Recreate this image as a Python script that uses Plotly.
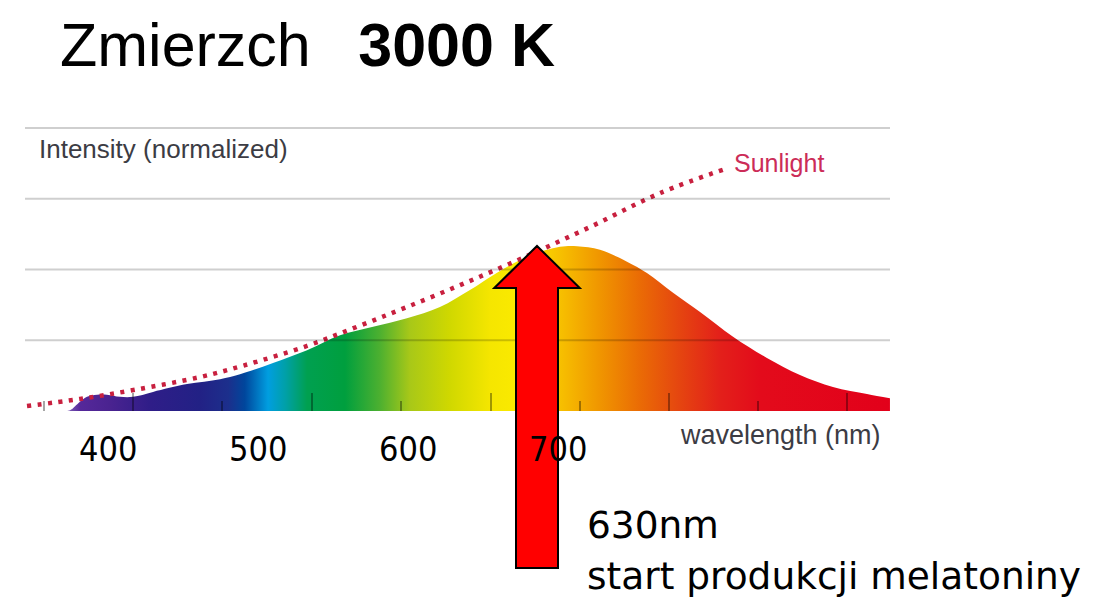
"""Spectrum of a 3000 K source (dusk) against sunlight, with the 630 nm marker."""

import plotly.graph_objects as go

# Spectrum of the lamp (wavelength in nm, normalized intensity)
SPEC_NM = [344.7, 370.0, 374.7, 381.3, 386.0, 392.7, 399.3, 408.0, 416.7, 430.0,
           452.7, 474.7, 488.0, 510.0, 532.7, 554.7, 576.7, 599.3, 621.3, 641.3,
           656.7, 679.3, 701.3, 712.7, 728.0, 746.0, 759.3, 776.7, 794.7, 816.7,
           839.3, 861.3, 883.3, 906.0, 921.3]
SPEC_INT = [0.0, 0.0, 0.01, 0.13, 0.20, 0.23, 0.23, 0.20, 0.20, 0.27,
            0.38, 0.45, 0.52, 0.68, 0.86, 1.07, 1.19, 1.31, 1.47, 1.71,
            1.92, 2.18, 2.32, 2.33, 2.28, 2.11, 1.95, 1.67, 1.40, 1.05,
            0.75, 0.51, 0.34, 0.24, 0.18]

# Sunlight reference curve
SUN_NM = [346.0, 381.3, 418.0, 461.3, 490.0, 532.7, 566.0, 599.3, 639.3, 679.3,
          723.3, 768.0, 812.7]
SUN_INT = [0.07, 0.17, 0.30, 0.48, 0.64, 0.92, 1.19, 1.47, 1.82, 2.19,
           2.62, 3.08, 3.43]

GRID_LEVELS = [1, 2, 3, 4]
TICK_VALUES = [400, 500, 600, 700]
TICK_TEXT = ["400", "500", "600", "700"]
MAJOR_MARKS = [416.7, 536.0, 655.3, 774.0, 892.7]
MINOR_MARKS = [357.3, 476.0, 595.3, 714.7, 833.3]
ARROW_NM = 686

X_RANGE = [344.67, 921.33]
Y_RANGE = [0, 4.014]

# plot area in pixels of the picture (the page adds an 8px body margin)
PAGE_PAD = 8
PLOT_L, PLOT_R, PLOT_T, PLOT_B = 25, 890, 127, 411


def px_x(px):
    return (px - PLOT_L) / (PLOT_R - PLOT_L)


def px_y(py):
    return (PLOT_B - py) / (PLOT_B - PLOT_T)


SPECTRUM_COLORS = [
    [0.000, "#cfc4e4"], [0.044, "#8a70c0"], [0.064, "#55289a"],
    [0.098, "#4a2390"], [0.145, "#2f1d88"], [0.202, "#222185"],
    [0.235, "#1c2f8c"], [0.254, "#00469c"], [0.281, "#009ee0"],
    [0.301, "#00a0a8"], [0.326, "#00a050"], [0.370, "#009f3e"],
    [0.410, "#4cb030"], [0.445, "#a8c818"], [0.491, "#d0d800"],
    [0.538, "#f5e600"], [0.572, "#fbea00"], [0.601, "#f8d000"],
    [0.624, "#f6bb00"], [0.665, "#f09500"], [0.711, "#ea6b05"],
    [0.757, "#e54510"], [0.803, "#e3201a"], [0.850, "#e30b1b"],
    [1.000, "#e2001a"],
]

TEXT_FONT = "Liberation Sans, Arial, sans-serif"
NOTE_FONT = "DejaVu Sans, sans-serif"

fig = go.Figure()
fig.add_trace(go.Scatter(
    x=SPEC_NM, y=SPEC_INT, mode="lines", line=dict(width=0, shape="spline"),
    fill="tozeroy",
    fillgradient=dict(type="horizontal", colorscale=SPECTRUM_COLORS,
                      start=X_RANGE[0], stop=X_RANGE[1]),
    hoverinfo="skip",
))
fig.add_trace(go.Scatter(
    x=SUN_NM, y=SUN_INT, mode="lines",
    line=dict(color="#c8203f", width=4.5, dash="4px,6.5px", shape="spline"),
    hoverinfo="skip",
))

# gridlines sit over the fill, semi-transparent like the original
for lvl in GRID_LEVELS:
    fig.add_shape(type="line", xref="paper", x0=0, x1=1, yref="y", y0=lvl, y1=lvl,
                  line=dict(color="rgba(0,0,0,0.19)", width=2), layer="above")

# block arrow pointing at the curve
hw, hh = 14, 28.5
y_tip, y_base, y_bot = px_y(246), px_y(288), px_y(568)
fig.add_shape(
    type="path", xref="x", yref="paper", layer="above",
    path=(f"M {ARROW_NM - hw},{y_bot} L {ARROW_NM - hw},{y_base} "
          f"L {ARROW_NM - hh},{y_base} L {ARROW_NM},{y_tip} "
          f"L {ARROW_NM + hh},{y_base} L {ARROW_NM + hw},{y_base} "
          f"L {ARROW_NM + hw},{y_bot} Z"),
    fillcolor="#ff0000", line=dict(color="black", width=2),
)

for val, txt in zip(TICK_VALUES, TICK_TEXT):
    fig.add_annotation(x=val, xref="x", y=px_y(449), yref="paper", text=txt,
                       showarrow=False, xanchor="center", yanchor="middle",
                       font=dict(family="Liberation Sans Narrow, DejaVu Sans Condensed, sans-serif",
                                 size=34, color="black"))

fig.add_annotation(x=px_x(58), y=px_y(44.5), xref="paper", yref="paper",
                   text="Zmierzch\u2002\u00a0<b>3000 K</b>", showarrow=False,
                   xanchor="left", yanchor="middle",
                   font=dict(family=TEXT_FONT, size=61, color="black"))
fig.add_annotation(x=px_x(37), y=px_y(149), xref="paper", yref="paper",
                   text="Intensity (normalized)", showarrow=False,
                   xanchor="left", yanchor="middle",
                   font=dict(family=TEXT_FONT, size=26, color="#3c3c44"))
fig.add_annotation(x=px_x(883), y=px_y(435), xref="paper", yref="paper",
                   text="wavelength (nm)", showarrow=False,
                   xanchor="right", yanchor="middle",
                   font=dict(family=TEXT_FONT, size=27, color="#3c3c44"))
fig.add_annotation(x=SUN_NM[-1], y=SUN_INT[-1], xref="x", yref="y",
                   text="Sunlight", showarrow=False, xanchor="left", yanchor="middle",
                   xshift=5, yshift=5,
                   font=dict(family=TEXT_FONT, size=25, color="#cc2c58"))
fig.add_annotation(x=px_x(585), y=px_y(525), xref="paper", yref="paper",
                   text="630nm", showarrow=False, xanchor="left", yanchor="middle",
                   font=dict(family=NOTE_FONT, size=37.5, color="black"))
fig.add_annotation(x=px_x(585), y=px_y(576), xref="paper", yref="paper",
                   text="start produkcji melatoniny", showarrow=False,
                   xanchor="left", yanchor="middle",
                   font=dict(family=NOTE_FONT, size=37.5, color="black"))

fig.update_layout(
    width=1100, height=610,
    margin=dict(l=PLOT_L - PAGE_PAD, r=1100 - PLOT_R + PAGE_PAD,
                t=PLOT_T - PAGE_PAD, b=610 - PLOT_B + PAGE_PAD),
    paper_bgcolor="white", plot_bgcolor="white",
    showlegend=False,
    xaxis=dict(range=X_RANGE, showgrid=False, zeroline=False, showline=False,
               tickmode="array", tickvals=MAJOR_MARKS, ticks="inside", ticklen=18,
               tickwidth=1.5, tickcolor="rgba(0,0,0,0.35)", showticklabels=False,
               minor=dict(tickmode="array", tickvals=MINOR_MARKS, ticks="inside",
                          ticklen=10, tickwidth=1.5, tickcolor="rgba(0,0,0,0.35)")),
    yaxis=dict(range=Y_RANGE, showgrid=False, zeroline=False, showline=False,
               showticklabels=False, ticks=""),
)

fig.write_html("out.html")
